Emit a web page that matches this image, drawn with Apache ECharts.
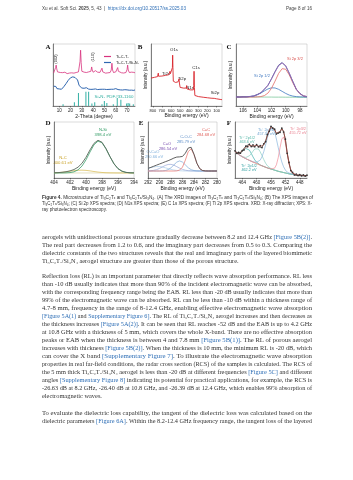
<!DOCTYPE html>
<html>
<head>
<meta charset="utf-8">
<script src="https://cdn.jsdelivr.net/npm/echarts@6/dist/echarts.min.js"></script>
<style>
html, body { margin: 0; padding: 0; background: #fff; }
#main { width: 353px; height: 480px; }
</style>
</head>
<body>
<div id="main"></div>
<script>
// 基于准备好的dom，初始化echarts实例
var myChart = echarts.init(document.getElementById('main'));

// ---------- A: XRD ----------
var xrdTicks = [10, 20, 30, 40, 50, 60, 70];
var xrdPure = [[5,53],[6,56],[6.8,62],[7.3,66],[7.8,60],[8.5,55],[9,53.5],[10,52],[11,54],[12,52.5],[13,53.8],[14,52],[15,54.5],[16,53],[17,52.2],[18,54],[19,53.1],[20,55],[21,53.5],[22,54.8],[23,53],[24,55.5],[25,54],[26,53.2],[27,55],[27.8,58],[28.4,72],[28.9,90],[29.4,70],[30,56],[31,53.5],[32,54.6],[33,52.8],[34,54],[35,53.1],[36,55],[37,53.5],[38,56],[38.7,63],[39.2,58],[40,54.5],[41,53],[42,57],[43,53.8],[44,54.5],[45,53],[46,54.2],[47,55],[47.8,61],[48.5,55],[49,53.5],[50,54.8],[51,53],[52,54.2],[53,53.5],[54,55],[55,54],[56,58],[56.6,69],[57.2,58],[58,54],[59,53.2],[60,55],[61,57],[61.7,62],[62.3,56],[63,54],[64,55.2],[65,53.6],[66,54.8],[67,53.2],[68,55],[69,54],[70,59],[70.5,66],[71,58],[72,54],[73,53.2],[74,54.6],[75,53],[76,54.2],[77,53.5]];
var xrdComposite = [[5,32],[6,30],[7,31.5],[8,28],[9,29],[10,27.5],[11,28.5],[12,27],[13,29],[14,31],[15,33.5],[16,36],[17,39],[18,41.5],[19,43],[20,45.5],[21,44],[22,47],[22.6,45],[23.2,48],[24,46],[25,44.5],[25.6,47],[26.2,42],[27,37],[27.6,33],[28.3,36],[29,31],[30,29],[31,27.5],[32,28.6],[33,27],[34,29.5],[34.7,32],[35.4,28],[36,27.2],[37,28.4],[38,26.8],[39,28],[40,27],[41,30],[42,27.5],[43,28.6],[44,26.5],[45,27.8],[46,26.9],[47,28],[48,27],[49,29.5],[50,27],[51,28.2],[52,26.6],[53,27.5],[54,26.8],[55,28.5],[56,27],[57,30],[58,27],[59,26.5],[60,28],[61,29.2],[62,26.5],[63,27.4],[64,26],[65,27.2],[66,25.8],[67,27],[68,26.3],[69,27.5],[70,26],[71,27.6],[72,25.5],[73,26.8],[74,25.6],[75,26.5],[76,25.2],[77,26]];
var si3n4Ref = [[13.4,3],[23.4,6],[27.0,21],[33.6,23],[36.0,23],[38.9,4],[41.4,6],[47.8,3],[49.9,8],[52.1,5],[57.8,3],[61.3,13],[64.5,10],[69.6,4],[70.9,5],[72.3,4],[75.5,3]];

// ---------- B: XPS survey ----------
var surveyTicks = [800, 700, 600, 500, 400, 300, 200, 100];
var surveyData = [[820,45],[800,45.8],[780,46.3],[760,46.9],[748,47.4],[743,50],[740,53],[737,48],[720,47.8],[700,48.3],[680,48.9],[660,49.4],[640,49.8],[625,50.4],[615,52],[611,56],[607,52],[598,51.5],[590,53],[585,62],[582,82],[579,62],[575,40],[565,38.5],[550,38],[540,37.6],[530,37.2],[522,39],[516,42],[512,44],[508,37],[500,30],[480,29.3],[460,28.8],[440,28.3],[432,29],[428,33],[424,27.5],[410,26.5],[390,26],[370,25.5],[355,26],[351,33],[347,56],[343,30],[338,17],[320,15.8],[300,15.2],[270,14.6],[240,14],[200,13.3],[160,12.6],[125,12.3],[119,15],[115,12],[100,11.6],[80,11.1],[60,10.6],[40,10.2]];

// ---------- C: Si 2p ----------
var si2pTicks = [106, 104, 102, 100, 98];
var si2pEv = [107,106.5,106,105.5,105,104.5,104,103.5,103,102.5,102,101.5,101,100.5,100,99.5,99,98.5,98,97.5,97];
var si2pRaw = [14.6,14.4,14.8,14.7,15.5,16.0,18.6,21.2,27.3,33.1,44.2,55.6,65.8,70.1,64.3,52.6,39.8,26.6,20.4,16.1,15.2];
var si2pFit = [14.5,14.5,14.6,14.8,15.2,16.3,18.2,21.6,26.6,33.8,43.4,54.7,64.9,69.3,65.1,53.3,39.1,27.3,19.9,16.4,15.0];
var si2p32 = [14.5,14.5,14.5,14.5,14.5,14.5,14.7,15.2,16.8,20.8,28.6,40.1,52.5,60.2,59.3,50.2,37.6,26.7,19.7,16.3,15.0];
var si2p12 = [14.5,14.5,14.6,14.8,15.2,16.2,18.1,20.9,24.3,27.5,29.3,29.1,26.9,23.6,20.3,17.6,16.0,15.1,14.7,14.6,14.5];
var si2pBg = [14.8,14.7,14.7,14.6,14.6,14.5,14.5,14.5,14.4,14.4,14.4,14.3,14.3,14.3,14.2,14.2,14.2,14.1,14.1,14.1,14.0];

// ---------- D: N 1s ----------
var n1sTicks = [404, 402, 400, 398, 396, 394];
var n1sEv = [404,403.5,403,402.5,402,401.5,401,400.5,400,399.5,399,398.5,398,397.5,397,396.5,396,395.5,395,394.5,394];
var n1sFit = [9.3,9.6,10.2,11.2,12.7,15.1,19.3,26.3,37.0,50.2,61.9,67.4,63.8,52.4,38.1,25.4,16.7,12.1,10.0,9.3,9.1];
var n1sNSi = [9.0,9.0,9.0,9.2,9.6,11.0,14.5,21.3,32.4,46.5,59.3,65.8,62.9,52.0,37.9,25.3,16.7,12.1,10.0,9.3,9.1];
var n1sNC = [9.3,9.6,10.2,11.0,12.1,13.1,13.8,14.0,13.6,12.7,11.6,10.6,9.9,9.4,9.2,9.1,9.0,9.0,9.0,9.0,9.0];
var n1sBg = [9,9,9,9,9,9,9,9,9,9,9,9,9,9,9,9,9,9,9,9,9];

// ---------- E: C 1s ----------
var c1sTicks = [292, 290, 288, 286, 284, 282, 280];
var c1sEv = [292,291.5,291,290.5,290,289.5,289,288.5,288,287.5,287,286.5,286,285.5,285,284.5,284,283.5,283,282.5,282,281.5,281,280.5,280];
var c1sFit = [17.2,19.0,21.0,23.0,25.0,27.0,29.0,30.9,33.1,35.6,37.4,37.7,38.5,44.4,53.6,54.8,42.4,26.3,16.7,13.3,12.6,12.5,12.5,12.5,12.5];
var c1sCC = [12.5,12.5,12.5,12.5,12.5,12.5,12.5,12.5,12.5,12.5,12.7,14.1,19.5,32.0,47.2,52.1,41.6,26.1,16.6,13.3,12.6,12.5,12.5,12.5,12.5];
var c1sCOC = [12.5,12.5,12.5,12.5,12.5,12.7,13.3,14.9,18.3,23.4,28.4,30.5,28.4,23.4,18.3,14.9,13.3,12.7,12.5,12.5,12.5,12.5,12.5,12.5,12.5];
var c1sCO = [12.7,13.0,13.7,15.0,17.1,19.8,22.4,24.2,24.4,22.9,20.3,17.6,15.4,13.9,13.1,12.7,12.6,12.5,12.5,12.5,12.5,12.5,12.5,12.5,12.5];
var c1sOCO = [17.1,18.5,19.8,20.4,20.4,19.6,18.3,16.8,15.4,14.2,13.5,13.0,12.7,12.6,12.5,12.5,12.5,12.5,12.5,12.5,12.5,12.5,12.5,12.5,12.5];

// ---------- F: Ti 2p ----------
var ti2pTicks = [464, 460, 456, 452, 448];
var ti2pEv = [466,465.5,465,464.5,464,463.5,463,462.5,462,461.5,461,460.5,460,459.5,459,458.5,458,457.5,457,456.5,456,455.5,455,454.5,454,453.5,453,452.5,452,451.5,451,450.5,450,449.5,449,448.5,448,447.5,447,446.5,446];
var ti2pRaw = [48.5,44.0,45.8,44.2,49.0,50.1,56.8,55.9,60.3,56.2,59.1,55.8,59.6,55.7,57.9,54.4,61.2,64.8,77.6,83.3,92.4,89.1,87.2,78.6,80.4,81.5,89.3,82.1,69.4,44.1,27.8,13.2,9.9,5.4,7.1,4.3,6.2,3.9,5.6,3.5,5.1];
var ti2pFit = [47.3,45.4,44.3,45.1,47.5,51.2,54.9,57.4,58.0,57.6,57.4,57.7,58.0,57.2,56.0,56.2,59.4,66.3,75.7,85.0,90.6,90.6,85.8,80.1,78.7,83.0,87.6,83.5,67.7,45.5,26.3,14.5,8.8,6.6,5.6,5.2,5.0,4.7,4.5,4.2,4.0];
var ti2pBg = [47,44.5,42,40,38,36.2,34.5,33,31.5,30,28.5,27.2,26,24.5,23,21.7,20.5,19.2,18,17,16,15,14,13,12,11.2,10.5,9.7,9,8.2,7.5,7,6.5,6,5.5,5.2,5,4.7,4.5,4.2,4];
var ti2pP1 = [47.3,45.4,44.3,45.0,47.2,50.3,52.8,53.0,49.8,44.1,37.7,32.2,28.3,25.4,23.3,21.8,20.5,19.2,18,17,16,15,14,13,12,11.2,10.5,9.7,9,8.2,7.5,7,6.5,6,5.5,5.2,5,4.7,4.5,4.2,4];
var ti2pP2 = [47,44.5,42,40.1,38.3,37.1,36.6,37.4,39.7,43.4,47.9,51.9,53.7,51.9,46.8,39.9,32.8,26.5,21.8,18.7,16.7,15.3,14.1,13,12,11.2,10.5,9.7,9,8.2,7.5,7,6.5,6,5.5,5.2,5,4.7,4.5,4.2,4];
var ti2pP3 = [47,44.5,42,40,38,36.2,34.5,33,31.5,30.1,28.8,28.0,28.0,29.0,31.9,37.9,47.2,59.0,71.9,83.2,89.7,89.4,82.2,69.6,54.7,40.3,28.6,19.9,14.2,10.6,8.5,7.4,6.6,6.0,5.5,5.2,5,4.7,4.5,4.2,4];
var ti2pP4 = [47,44.5,42,40,38,36.2,34.5,33,31.5,30,28.5,27.2,26,24.5,23,21.7,20.5,19.2,18,17.0,16.2,16.0,17.6,23.5,36.1,53.9,69.6,73.4,62.5,43.1,25.3,14.1,8.7,6.5,5.6,5.2,5,4.7,4.5,4.2,4];

function zip(xs, ys) {
    return xs.map(function (x, k) { return [x, ys[k]]; });
}

var grids = [
    { left: 53, top: 44, width: 82, height: 62 },
    { left: 151, top: 44, width: 71, height: 62 },
    { left: 236, top: 44, width: 71, height: 62 },
    { left: 54, top: 122, width: 80, height: 56 },
    { left: 148, top: 122, width: 69, height: 56 },
    { left: 235, top: 122, width: 72, height: 56 }
];
grids.forEach(function (g) {
    g.show = true;
    g.borderColor = '#b5b5b5';
    g.borderWidth = 0.5;
});

function mkX(i, min, max, ticks, inv, name, gap, fs) {
    return {
        type: 'value', gridIndex: i, min: min, max: max, inverse: inv,
        name: name, nameLocation: 'middle', nameGap: gap,
        nameTextStyle: { fontSize: 5, color: '#222' },
        axisLine: { show: true, onZero: false, lineStyle: { color: '#333', width: 0.6 } },
        axisTick: { show: true, length: 1.5, customValues: ticks, lineStyle: { color: '#333', width: 0.5 } },
        axisLabel: { fontSize: fs || 4.5, color: '#222', margin: 2.5, customValues: ticks },
        splitLine: { show: false }
    };
}
function mkY(i, name) {
    return {
        type: 'value', gridIndex: i, min: 0, max: 100,
        name: name, nameLocation: 'middle', nameGap: 2.5,
        nameTextStyle: { fontSize: 4.5, color: '#222' },
        axisLine: { show: true, lineStyle: { color: '#333', width: 0.6 } },
        axisTick: { show: false },
        axisLabel: { show: false },
        splitLine: { show: false }
    };
}
function ln(i, name, data, color, w, extra) {
    var s = {
        type: 'line', name: name, xAxisIndex: i, yAxisIndex: i, data: data,
        showSymbol: false, symbol: 'none', silent: true,
        lineStyle: { color: color, width: w }, itemStyle: { color: color }
    };
    for (var k in (extra || {})) s[k] = extra[k];
    return s;
}

var yName = 'Intensity (a.u.)';
var beName = 'Binding energy (eV)';

var series = [
    ln(0, 'Ti₃C₂Tₓ', xrdPure, '#d8327e', 0.8),
    ln(0, 'Ti₃C₂Tₓ/Si₃N₄', xrdComposite, '#2f66b0', 1),
    { type: 'bar', xAxisIndex: 0, yAxisIndex: 0, data: si3n4Ref, barWidth: 0.9, silent: true, itemStyle: { color: '#33b0a4' } },

    ln(1, 'survey', surveyData, '#d9262c', 0.9),

    ln(2, 'bg', zip(si2pEv, si2pBg), '#7cc89c', 0.8),
    ln(2, '2p1/2', zip(si2pEv, si2p12), '#3f78c0', 0.8),
    ln(2, '2p3/2', zip(si2pEv, si2p32), '#e36b66', 0.8),
    ln(2, 'raw', zip(si2pEv, si2pRaw), '#3a3f8f', 0.8),
    ln(2, 'fit', zip(si2pEv, si2pFit), '#9a6fb8', 0.8),

    ln(3, 'bg', zip(n1sEv, n1sBg), '#d8d2a8', 0.7),
    ln(3, 'N-C', zip(n1sEv, n1sNC), '#dcc060', 0.8),
    ln(3, 'N-Si', zip(n1sEv, n1sNSi), '#3aa06b', 0.8),
    ln(3, 'fit', zip(n1sEv, n1sFit), '#5a6a5c', 0.9),

    ln(4, 'O-C=O', zip(c1sEv, c1sOCO), '#a9cbe8', 0.7),
    ln(4, 'C=O', zip(c1sEv, c1sCO), '#9aa7d8', 0.7),
    ln(4, 'C-O-C', zip(c1sEv, c1sCOC), '#7aa6d6', 0.7),
    ln(4, 'C=C', zip(c1sEv, c1sCC), '#ee7f78', 0.8),
    ln(4, 'fit', zip(c1sEv, c1sFit), '#4e4e4e', 0.9),

    ln(5, 'bg', zip(ti2pEv, ti2pBg), '#cdb486', 0.9),
    ln(5, 'p1', zip(ti2pEv, ti2pP1), '#3fb0ad', 0.7),
    ln(5, 'p2', zip(ti2pEv, ti2pP2), '#8cd0c2', 0.7),
    ln(5, 'p3', zip(ti2pEv, ti2pP3), '#8ab6dc', 0.7),
    ln(5, 'p4', zip(ti2pEv, ti2pP4), '#f08c9a', 0.7),
    ln(5, 'raw', zip(ti2pEv, ti2pRaw), '#333333', 0.7, { showSymbol: true, symbol: 'circle', symbolSize: 1.7 }),
    ln(5, 'fit', zip(ti2pEv, ti2pFit), '#9c3b2e', 0.7)
];

// ---------- page text ----------
var measureCtx = document.createElement('canvas').getContext('2d');
function plain(s) { return s.replace(/\{(\w+)\|([^}]*)\}/g, '$2'); }
function widthOf(s, font) { measureCtx.font = font; return measureCtx.measureText(plain(s)).width; }

var TX = 42, TW = 270;
var serif = '"Liberation Serif", "DejaVu Serif", serif';
var sans = '"Liberation Sans", Arial, sans-serif';

function block(lines, y0, step, size, family, color, lastFree) {
    var font = size + 'px ' + family;
    var scales = lines.map(function (l) { return TW / widthOf(l, font); });
    var full = scales.slice(0, lastFree ? -1 : scales.length);
    var avg = full.reduce(function (a, b) { return a + b; }, 0) / full.length;
    return lines.map(function (l, k) {
        var sc = (lastFree && k === lines.length - 1) ? Math.min(avg, scales[k]) : scales[k];
        return {
            type: 'text', x: TX, y: y0 + k * step, scaleX: sc, silent: true,
            style: {
                text: l, fill: color, fontSize: size, fontFamily: family,
                align: 'left', verticalAlign: 'middle', textAlign: 'left', textVerticalAlign: 'middle',
                rich: {
                    l: { fill: '#2f6fb6', fontSize: size, fontFamily: family },
                    b: { fill: color, fontSize: size, fontFamily: family, fontWeight: 'bold' }
                }
            }
        };
    });
}

var captionLines = [
    '{b|Figure 4.} Microstructure of Ti₃C₂Tₓ and Ti₃C₂Tₓ/Si₃N₄. (A) The XRD images of Ti₃C₂Tₓ and Ti₃C₂Tₓ/Si₃N₄; (B) The XPS images of',
    'Ti₃C₂Tₓ/Si₃N₄; (C) Si 2p XPS spectra; (D) N1s XPS spectra; (E) C 1s XPS spectra; (F) Ti 2p XPS spectra. XRD: X-ray diffraction; XPS: X-',
    'ray photoelectron spectroscopy.'
];
var para1 = [
    'aerogels with unidirectional porous structure gradually decrease between 8.2 and 12.4 GHz {l|[Figure 5B(2)]}.',
    'The real part decreases from 1.2 to 0.6, and the imaginary part decreases from 0.5 to 0.3. Comparing the',
    'dielectric constants of the two structures reveals that the real and imaginary parts of the layered biomimetic',
    'Ti₃C₂Tₓ/Si₃N₄ aerogel structure are greater than those of the porous structure.'
];
var para2 = [
    'Reflection loss (RL) is an important parameter that directly reflects wave absorption performance. RL less',
    'than -10 dB usually indicates that more than 90% of the incident electromagnetic wave can be absorbed,',
    'with the corresponding frequency range being the EAB. RL less than -20 dB usually indicates that more than',
    '99% of the electromagnetic wave can be absorbed. RL can be less than -10 dB within a thickness range of',
    '4.7-8 mm, frequency in the range of 8-12.4 GHz, enabling effective electromagnetic wave absorption',
    '{l|[Figure 5A(1)} and {l|Supplementary Figure 6]}. The RL of Ti₃C₂Tₓ/Si₃N₄ aerogel increases and then decreases as',
    'the thickness increases {l|[Figure 5A(2)]}. It can be seen that RL reaches -52 dB and the EAB is up to 4.2 GHz',
    'at 10.8 GHz with a thickness of 5 mm, which covers the whole X-band. There are no effective absorption',
    'peaks or EAB when the thickness is between 4 and 7.8 mm {l|[Figure 5B(1)]}. The RL of porous aerogel',
    'increases with thickness {l|[Figure 5B(2)]}. When the thickness is 10 mm, the minimum RL is -20 dB, which',
    'can cover the X band {l|[Supplementary Figure 7]}. To illustrate the electromagnetic wave absorption',
    'properties in real far-field conditions, the radar cross section (RCS) of the samples is calculated. The RCS of',
    'the 5 mm thick Ti₃C₂Tₓ/Si₃N₄ aerogel is less than -20 dB at different frequencies {l|[Figure 5C]} and different',
    'angles {l|[Supplementary Figure 8]} indicating its potential for practical applications, for example, the RCS is',
    '-26.63 dB at 8.2 GHz, -26.40 dB at 10.8 GHz, and -26.39 dB at 12.4 GHz, which enables 99% absorption of',
    'electromagnetic waves.'
];
var para3 = [
    'To evaluate the dielectric loss capability, the tangent of the dielectric loss was calculated based on the',
    'dielectric parameters {l|[Figure 6A]}. Within the 8.2-12.4 GHz frequency range, the tangent loss of the layered'
];

function txt(x, y, s, size, color, extra) {
    var el = {
        type: 'text', x: x, y: y, silent: true,
        style: {
            text: s, fill: color, fontSize: size, fontFamily: sans,
            align: 'center', verticalAlign: 'middle', textAlign: 'center', textVerticalAlign: 'middle'
        }
    };
    for (var k in (extra || {})) el[k] = extra[k];
    return el;
}
function letter(x, y, s) {
    return {
        type: 'text', x: x, y: y, silent: true,
        style: { text: s, fill: '#111', fontSize: 7, fontFamily: serif, fontWeight: 'bold', align: 'center', verticalAlign: 'middle' }
    };
}

var graphics = [
    {
        type: 'text', x: 42, y: 9, silent: true,
        style: {
            text: 'Xu et al. Soft Sci. {b|2025}, 5, 43  |  {l|https://dx.doi.org/10.20517/ss.2025.03}',
            fill: '#444', fontSize: 4.6, fontFamily: sans, align: 'left', verticalAlign: 'middle',
            rich: {
                b: { fill: '#444', fontSize: 4.6, fontFamily: sans, fontWeight: 'bold' },
                l: { fill: '#2f6fb6', fontSize: 4.6, fontFamily: sans }
            }
        }
    },
    {
        type: 'text', x: 312, y: 9, silent: true,
        style: { text: 'Page 8 of 16', fill: '#444', fontSize: 4.6, fontFamily: sans, align: 'right', verticalAlign: 'middle' }
    },
    letter(48, 47, 'A'), letter(140, 47, 'B'), letter(229, 47, 'C'),
    letter(48, 123, 'D'), letter(141, 123, 'E'), letter(229, 123, 'F'),

    // A annotations
    txt(56, 59, '(002)', 4, '#222', { rotation: Math.PI / 2 }),
    txt(93, 57, '(110)', 4, '#222', { rotation: Math.PI / 2 }),
    txt(114, 97, 'Si₃N₄ PDF#33-1160', 4.4, '#2fae9f'),

    // B annotations
    txt(174, 50, 'O1s', 4.3, '#222'),
    txt(166, 74, 'Ti2s', 4.3, '#222'),
    txt(182, 79, 'Ti2p', 4.3, '#222'),
    txt(190, 88, 'N1s', 4.3, '#222'),
    txt(196, 68, 'C1s', 4.3, '#222'),
    txt(215, 93, 'Si2p', 4.3, '#222'),

    // C annotations
    txt(295, 59, 'Si 2p 3/2', 4, '#d9534f'),
    txt(262, 76, 'Si 2p 1/2', 4, '#3f78c0'),

    // D annotations
    txt(103, 130, 'N-Si', 4.2, '#2e9a62'),
    txt(103, 134.5, '398.4 eV', 4.2, '#2e9a62'),
    txt(63, 158, 'N-C', 4.2, '#c9a227'),
    txt(63, 162.5, '400.61 eV', 4.2, '#c9a227'),

    // E annotations
    txt(206, 130, 'C=C', 4, '#e0605a'),
    txt(206, 134.5, '284.68 eV', 4, '#e0605a'),
    txt(186, 137, 'C-O-C', 4, '#5f8fc8'),
    txt(186, 141.5, '285.79 eV', 4, '#5f8fc8'),
    txt(167, 144, 'C=O', 4, '#7a4fb0'),
    txt(168, 148.5, '286.54 eV', 4, '#7a4fb0'),
    txt(153, 152, 'O-C=O', 4, '#7fb0dc'),
    txt(154, 156.5, '290.66 eV', 4, '#7fb0dc'),

    // F annotations
    txt(266, 130, 'Ti³⁺ 2p3/2', 3.8, '#6fa3cf'),
    txt(266, 134, '457.30 eV', 3.8, '#6fa3cf'),
    txt(298, 129, 'Ti²⁺ 2p3/2', 3.8, '#e97f8e'),
    txt(298, 133, '455.72 eV', 3.8, '#e97f8e'),
    txt(247, 138, 'Ti⁴⁺ 2p1/2', 3.8, '#56b7a8'),
    txt(247, 142, '463.6 eV', 3.8, '#56b7a8'),
    txt(249, 166, 'Ti²⁺ 2p1/2', 3.8, '#2f9fa0'),
    txt(249, 170, '462.2 eV', 3.8, '#2f9fa0')
];

graphics = graphics
    .concat(block(captionLines, 198, 6, 4.6, sans, '#333', true))
    .concat(block(para1, 237, 8, 6.6, serif, '#333', true))
    .concat(block(para2, 276, 8.05, 6.6, serif, '#333', true))
    .concat(block(para3, 413, 8.05, 6.6, serif, '#333', false));

option = {
    animation: false,
    backgroundColor: '#fff',
    textStyle: { fontFamily: sans },
    legend: {
        left: 99, top: 49.5, orient: 'vertical', selectedMode: false,
        itemWidth: 7, itemHeight: 1.2, itemGap: 2, icon: 'rect',
        textStyle: { fontSize: 3.9, color: '#222' },
        data: ['Ti₃C₂Tₓ', 'Ti₃C₂Tₓ/Si₃N₄']
    },
    grid: grids,
    xAxis: [
        mkX(0, 4.5, 77, xrdTicks, false, '2-Theta (degree)', 7.5),
        mkX(1, 40, 820, surveyTicks, true, beName, 7.5, 4),
        mkX(2, 97, 107, si2pTicks, true, beName, 7.5),
        mkX(3, 394, 404, n1sTicks, true, beName, 7.5),
        mkX(4, 280, 292, c1sTicks, true, beName, 7.5),
        mkX(5, 446, 466, ti2pTicks, true, beName, 7.5)
    ],
    yAxis: [mkY(0, ''), mkY(1, yName), mkY(2, yName), mkY(3, yName), mkY(4, yName), mkY(5, yName)],
    series: series,
    graphic: { elements: graphics }
};
// 使用刚指定的配置项和数据显示图表。
myChart.setOption(option);
</script>
</body>
</html>
